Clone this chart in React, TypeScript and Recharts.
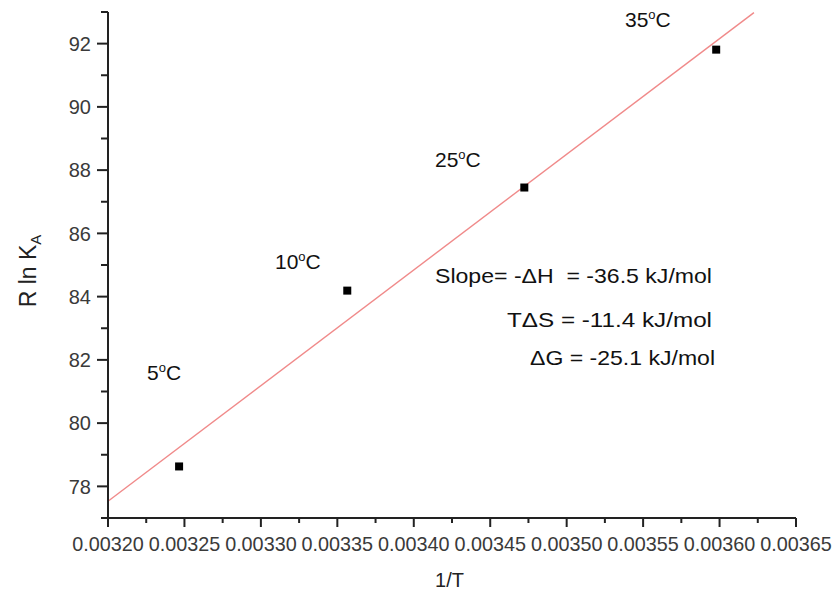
import React from "react";
import { ScatterChart, Scatter, XAxis, YAxis, ReferenceLine } from "recharts";

// ---- data ----
const tempLabels = ["5ºC", "10ºC", "25ºC", "35ºC"];
const invT = [0.0032465, 0.0033565, 0.0034723, 0.0035978];
const rLnKa = [78.63, 84.19, 87.45, 91.81];

// fitted line end points (as drawn)
const fitX = [0.0032, 0.0036225];
const fitY = [77.53, 92.98];

// ticks
const xTicks = [
  0.0032, 0.003225, 0.00325, 0.003275, 0.0033, 0.003325, 0.00335, 0.003375,
  0.0034, 0.003425, 0.00345, 0.003475, 0.0035, 0.003525, 0.00355, 0.003575,
  0.0036, 0.003625, 0.00365,
];
const yTicks = [77, 78, 79, 80, 81, 82, 83, 84, 85, 86, 87, 88, 89, 90, 91, 92, 93];
const yLabeled = [78, 80, 82, 84, 86, 88, 90, 92];

const annotations = [
  "Slope= -ΔH  = -36.5 kJ/mol",
  "TΔS = -11.4 kJ/mol",
  "ΔG = -25.1 kJ/mol",
];

const FONT = "'Liberation Sans', Arial, sans-serif";
const AXIS = "#222";
const TICKTXT = "#3a3a3a";

const points = invT.map((x, i) => ({ x, y: rLnKa[i], label: tempLabels[i] }));

const XTick = (props: any) => {
  const { x, y, payload, index } = props;
  const major = index % 2 === 0;
  return (
    <g>
      <line x1={x} x2={x} y1={y} y2={y + (major ? 9 : 5)} stroke={AXIS} strokeWidth={2} />
      {major && (
        <text x={x} y={y + 33} textAnchor="middle" fontSize={19.8} fill={TICKTXT} fontFamily={FONT}>
          {Number(payload.value).toFixed(5)}
        </text>
      )}
    </g>
  );
};

const YTick = (props: any) => {
  const { x, y, payload } = props;
  const major = yLabeled.includes(payload.value);
  return (
    <g>
      <line x1={x - (major ? 11 : 7)} x2={x} y1={y} y2={y} stroke={AXIS} strokeWidth={2} />
      {major && (
        <text x={x - 17} y={y} dy="0.36em" textAnchor="end" fontSize={20} fill={TICKTXT} fontFamily={FONT}>
          {payload.value}
        </text>
      )}
    </g>
  );
};

const Square = (props: any) => {
  const { cx, cy } = props;
  return <rect x={cx - 4} y={cy - 4} width={8} height={8} fill="#000" />;
};

const Deg = ({ x, y, text }: { x: number; y: number; text: string }) => {
  const num = text.replace("ºC", "");
  return (
    <text x={x} y={y} fontSize={21} fill="#111" fontFamily={FONT}>
      {num}
      <tspan fontSize={13} dy={-8}>o</tspan>
      <tspan dy={8}>C</tspan>
    </text>
  );
};

const labelPos = [
  { x: 147, y: 380 },
  { x: 275, y: 269 },
  { x: 435, y: 167 },
  { x: 625, y: 27 },
];
const annPos = [
  { x: 435, y: 283, w: 277 },
  { x: 507, y: 327, w: 205 },
  { x: 530, y: 365, w: 185 },
];

export default function App() {
  return (
    <div style={{ position: "absolute", left: 0, top: 0, width: 834, height: 594, background: "#fff" }}>
      <ScatterChart
        width={834}
        height={594}
        margin={{ top: 12, right: 38, left: 0, bottom: 0 }}
      >
        <XAxis
          type="number"
          dataKey="x"
          domain={[0.0032, 0.00365]}
          ticks={xTicks}
          interval={0}
          tickSize={0}
          tickMargin={0}
          tickLine={false}
          tick={<XTick />}
          height={76}
          axisLine={{ stroke: AXIS, strokeWidth: 2 }}
          allowDataOverflow
        />
        <YAxis
          type="number"
          dataKey="y"
          domain={[77, 93]}
          ticks={yTicks}
          interval={0}
          tickSize={0}
          tickMargin={0}
          tickLine={false}
          tick={<YTick />}
          width={108}
          axisLine={{ stroke: AXIS, strokeWidth: 2 }}
          allowDataOverflow
        />
        <ReferenceLine
          segment={[
            { x: fitX[0], y: fitY[0] },
            { x: fitX[1], y: fitY[1] },
          ]}
          stroke="#f08a8a"
          strokeWidth={1.4}
          ifOverflow="visible"
        />
        <Scatter data={points} shape={<Square />} isAnimationActive={false} />
      </ScatterChart>
      <svg
        width={834}
        height={594}
        style={{ position: "absolute", left: 0, top: 0, pointerEvents: "none" }}
      >
        {tempLabels.map((t, i) => (
          <Deg key={t} x={labelPos[i].x} y={labelPos[i].y} text={t} />
        ))}
        {annotations.map((a, i) => (
          <text
            key={a}
            x={annPos[i].x}
            y={annPos[i].y}
            fontSize={21}
            fill="#111"
            fontFamily={FONT}
            textLength={annPos[i].w}
            lengthAdjust="spacingAndGlyphs"
            style={{ whiteSpace: "pre" }}
          >
            {a}
          </text>
        ))}
        <text x={449.5} y={587} textAnchor="middle" fontSize={20} fill="#222" fontFamily={FONT}>
          1/T
        </text>
        <text
          transform="translate(36,271) rotate(-90)"
          textAnchor="middle"
          fontSize={23}
          fill="#222"
          fontFamily={FONT}
        >
          R ln K
          <tspan fontSize={15} dy={5}>A</tspan>
        </text>
      </svg>
    </div>
  );
}
